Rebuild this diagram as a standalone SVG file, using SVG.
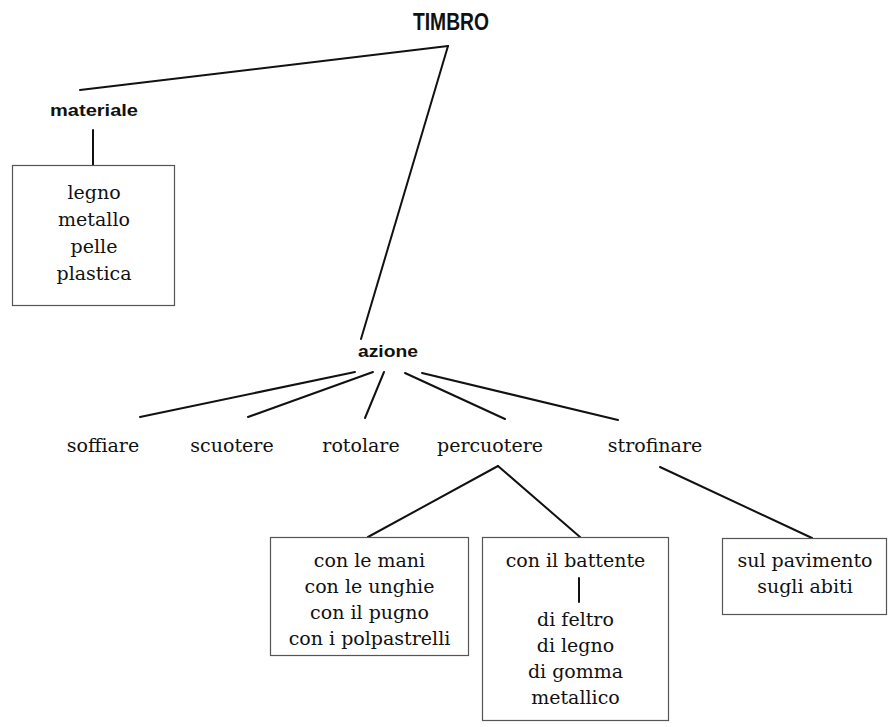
<svg xmlns="http://www.w3.org/2000/svg" width="889" height="727" viewBox="0 0 889 727">
  <style>
    .head { font-family: "Liberation Sans", "DejaVu Sans", sans-serif; font-weight: bold; fill: #111; text-anchor: middle; }
    .leaf { font-family: "DejaVu Serif", "Liberation Serif", serif; font-size: 19px; fill: #111; text-anchor: middle; }
    .box { fill: none; stroke: #555; stroke-width: 1.2; }
    .link { fill: none; stroke: #111; stroke-width: 2; stroke-linecap: round; }
  </style>
  <rect width="889" height="727" fill="#fff"/>

  <!-- connectors -->
  <g id="connectors">
    <line class="link" x1="448" y1="46" x2="80" y2="90"/>
    <line class="link" x1="448" y1="46" x2="361" y2="339"/>
    <line class="link" x1="93" y1="130" x2="93" y2="165"/>
    <line class="link" x1="355" y1="372" x2="140" y2="417"/>
    <line class="link" x1="373" y1="372" x2="248" y2="417"/>
    <line class="link" x1="384" y1="372" x2="365" y2="418"/>
    <line class="link" x1="405" y1="373" x2="505" y2="419"/>
    <line class="link" x1="422" y1="373" x2="618" y2="420"/>
    <line class="link" x1="498" y1="466" x2="368" y2="537"/>
    <line class="link" x1="498" y1="466" x2="580" y2="537"/>
    <line class="link" x1="660" y1="467" x2="812" y2="538"/>
  </g>

  <g id="timbro">
    <text class="head" x="451" y="30" font-size="23" textLength="76" lengthAdjust="spacingAndGlyphs">TIMBRO</text>
  </g>

  <g id="materiale">
    <text class="head" x="94" y="116" font-size="17" textLength="88" lengthAdjust="spacingAndGlyphs">materiale</text>
  </g>

  <g id="materiale-list">
    <rect class="box" x="12.5" y="165.5" width="162" height="140"/>
    <text class="leaf" x="94" y="199">legno</text>
    <text class="leaf" x="94" y="226">metallo</text>
    <text class="leaf" x="94" y="253">pelle</text>
    <text class="leaf" x="94" y="280">plastica</text>
  </g>

  <g id="azione">
    <text class="head" x="388" y="357" font-size="17" textLength="60" lengthAdjust="spacingAndGlyphs">azione</text>
  </g>

  <g id="soffiare"><text class="leaf" x="103" y="452">soffiare</text></g>
  <g id="scuotere"><text class="leaf" x="232" y="452">scuotere</text></g>
  <g id="rotolare"><text class="leaf" x="361" y="452">rotolare</text></g>
  <g id="percuotere"><text class="leaf" x="490" y="452">percuotere</text></g>
  <g id="strofinare"><text class="leaf" x="655" y="452">strofinare</text></g>

  <g id="mani">
    <rect class="box" x="270.5" y="537.5" width="198" height="118"/>
    <text class="leaf" x="369.5" y="567">con le mani</text>
    <text class="leaf" x="369.5" y="593">con le unghie</text>
    <text class="leaf" x="369.5" y="619">con il pugno</text>
    <text class="leaf" x="369.5" y="645">con i polpastrelli</text>
  </g>

  <g id="battente">
    <rect class="box" x="482.5" y="537.5" width="186" height="183"/>
    <text class="leaf" x="575.5" y="567">con il battente</text>
    <line class="link" x1="579" y1="578" x2="579" y2="602"/>
    <text class="leaf" x="575.5" y="626">di feltro</text>
    <text class="leaf" x="575.5" y="652">di legno</text>
    <text class="leaf" x="575.5" y="678">di gomma</text>
    <text class="leaf" x="575.5" y="704">metallico</text>
  </g>

  <g id="strofinio">
    <rect class="box" x="722.5" y="538.5" width="164" height="76"/>
    <text class="leaf" x="805" y="567">sul pavimento</text>
    <text class="leaf" x="805" y="593">sugli abiti</text>
  </g>
</svg>
